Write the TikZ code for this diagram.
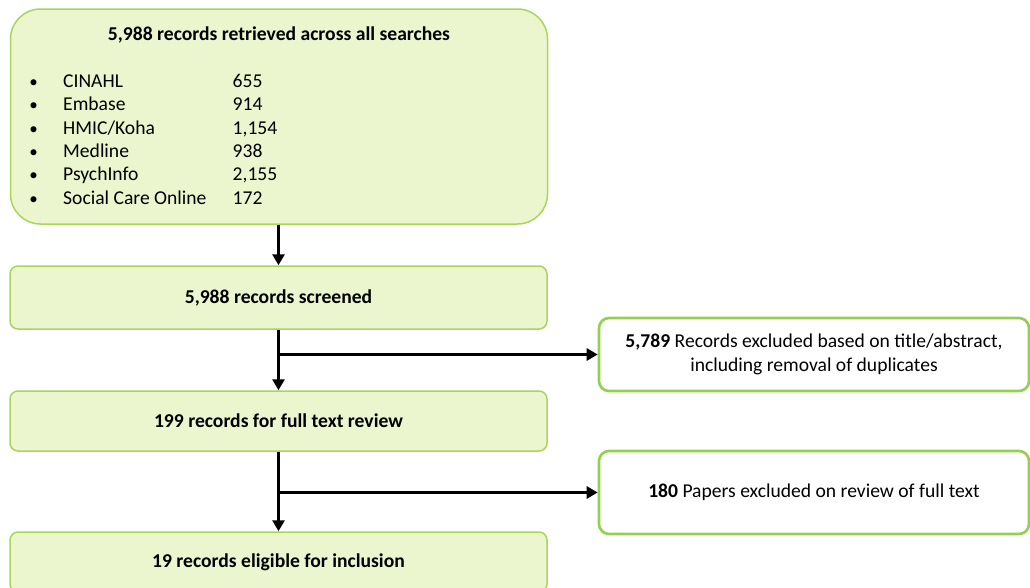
\documentclass[tikz,border=0pt]{standalone}
\usepackage{fontspec}
\setmainfont{Carlito}
\usetikzlibrary{arrows.meta, positioning}

\definecolor{boxfill}{HTML}{EBF6CF}
\definecolor{boxline}{HTML}{A9D65A}
\definecolor{exline}{HTML}{92D050}

\tikzset{
  stage/.style={draw=boxline, fill=boxfill, line width=1.5pt, rounded corners=8pt,
    inner sep=0pt, minimum width=537pt, font=\fontsize{19.6}{24}\selectfont\bfseries},
  excluded/.style={draw=exline, fill=white, line width=2.6pt, rounded corners=10pt,
    inner sep=0pt, minimum width=430pt, align=center, font=\fontsize{19.6}{24}\selectfont},
  flow/.style={line width=3pt, -{Triangle[length=11pt, width=12pt]}}
}

\begin{document}
\begin{tikzpicture}[x=1pt, y=-1pt, font=\fontsize{19.6}{24}\selectfont]
      \useasboundingbox (0,0) rectangle (1030,587);
      \clip (0,0) rectangle (1030,587);

      % Draw the boxes down the left
      \node[stage, rounded corners=30pt, minimum height=215pt] (search) at (279,116.5) {};
      \node[stage, minimum height=63pt] (screen) at (278.5,297.5) {5,988 records screened};
      \node[stage, minimum height=60pt] (full) at (278.5,421) {199 records for full text review};
      \node[stage, minimum height=60pt] (incl) at (278.5,562) {19 records eligible for inclusion};

      % Text in the first box
      \node[anchor=base, font=\fontsize{19.6}{24}\selectfont\bfseries] (title) at (279,40)
        {5,988 records retrieved across all searches};
      \foreach \name/\count [count=\i] in {CINAHL/655, Embase/914, HMIC\slash Koha/{1,154},
          Medline/938, PsychInfo/{2,155}, Social Care Online/172} {
        \node[anchor=base, font=\fontsize{17}{20}\selectfont] (dot\i) at (33.5,87.3+23.4*\i-23.4) {\textbullet};
        \node[anchor=base west, inner sep=0pt] (db\i) at (63,87.3+23.4*\i-23.4) {\name};
        \node[anchor=base west, inner sep=0pt] (num\i) at (232.5,87.3+23.4*\i-23.4) {\count};
      }

      % Draw the boxes on the right
      \node[excluded, minimum height=73pt] (ex1) at (814,354.5)
        {\textbf{5,789} Records excluded based on title/abstract,\\ including removal of duplicates};
      \node[excluded, minimum height=83pt] (ex2) at (814,492.5)
        {\textbf{180} Papers excluded on review of full text};

      % Draw the arrows
      \coordinate (split1) at (screen.south |- ex1.west);
      \coordinate (split2) at (full.south |- ex2.west);
      \draw[flow] (search.south -| screen.north) -- (screen.north);
      \draw[flow] (screen.south) -- (full.north);
      \draw[flow] (full.south) -- (incl.north);
      \draw[flow] ([xshift=-1.5pt]split1) -- (ex1.west);
      \draw[flow] ([xshift=-1.5pt]split2) -- (ex2.west);

    \end{tikzpicture}
\end{document}
